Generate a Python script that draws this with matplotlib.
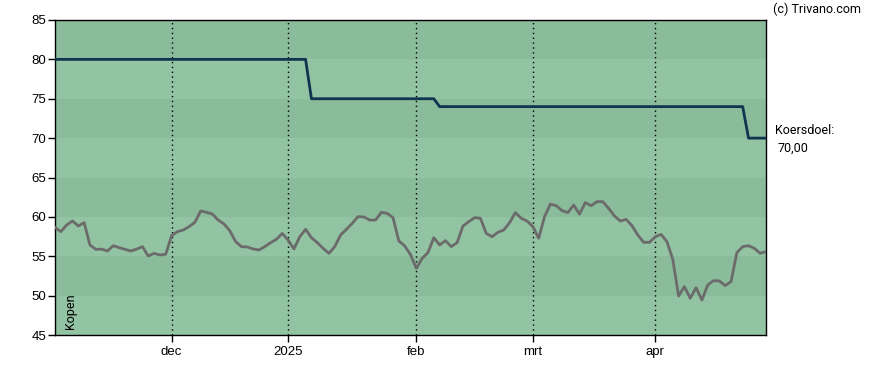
import matplotlib
matplotlib.use("Agg")
import matplotlib.pyplot as plt
import pandas as pd
import numpy as np

plt.rcParams['font.family'] = ['Roboto', 'DejaVu Sans']

# Trading days Nov 4 2024 .. Apr 30 2025 (Euronext holidays removed)
holidays = ["2024-12-25", "2024-12-26", "2025-01-01", "2025-04-18", "2025-04-21"]
dates = pd.bdate_range("2024-11-04", "2025-04-30")
dates = dates[~dates.isin(pd.to_datetime(holidays))]

price = [
    58.67, 58.12, 58.97, 59.48, 58.84, 59.26, 56.43, 55.88, 55.90, 55.67,
    56.34, 56.09, 55.88, 55.67, 55.90, 56.22, 55.03, 55.37, 55.16, 55.25,
    57.61, 58.12, 58.33, 58.76, 59.31, 60.75, 60.58, 60.37, 59.60, 59.10,
    58.23, 56.85, 56.22, 56.18, 55.92, 55.80, 56.22, 56.73, 57.15, 57.90,
    57.06, 55.92, 57.48, 58.42, 57.36, 56.73, 56.01, 55.37, 56.22, 57.70,
    58.42, 59.18, 60.03, 59.99, 59.60, 59.60, 60.58, 60.45, 59.90, 56.94,
    56.32, 55.20, 53.46, 54.73, 55.46, 57.36, 56.43, 56.98, 56.22, 56.73,
    58.84, 59.39, 59.90, 59.82, 57.90, 57.48, 58.04, 58.33, 59.26, 60.54,
    59.82, 59.48, 58.76, 57.28, 60.03, 61.63, 61.42, 60.79, 60.54, 61.50,
    60.35, 61.82, 61.42, 61.93, 61.93, 61.08, 60.11, 59.48, 59.69, 58.88,
    57.70, 56.77, 56.77, 57.48, 57.78, 56.85, 54.61, 49.95, 51.14, 49.66,
    51.01, 49.44, 51.35, 51.90, 51.86, 51.27, 51.78, 55.46, 56.22, 56.34,
    56.01, 55.37, 55.58,
]

target = [80.0] * 44 + [75.0] * 22 + [74.0] * 53 + [70.0] * 4

month_labels = {12: "dec", 1: "2025", 2: "feb", 3: "mrt", 4: "apr"}
y_ticks = [45, 50, 55, 60, 65, 70, 75, 80, 85]

n = len(price)
idx = np.arange(n)

fig = plt.figure(figsize=(8.88, 3.70), dpi=100)
ax = fig.add_axes([55 / 888, 1 - 335 / 370, 711 / 888, 315 / 370])

dark = "#8abb9b"
light = "#92c3a2"
for k in range(len(y_ticks) - 1):
    lo, hi = y_ticks[k], y_ticks[k + 1]
    ax.axhspan(lo, hi, color=light if k % 2 == 0 else dark, lw=0, zorder=0)

# month ticks: first trading day of each month
s = pd.Series(idx, index=dates)
firsts = s.groupby([dates.year, dates.month]).first()
tick_pos, tick_lab = [], []
for (yr, mo), p in firsts.items():
    if mo in month_labels and p > 0:
        tick_pos.append(p)
        tick_lab.append(month_labels[mo])

for p in tick_pos:
    ax.axvline(p, color="black", lw=1, ls=(0, (1, 2.5)), zorder=1)

ax.plot(idx, price, color="#6b6b6b", lw=2, zorder=3)
ax.plot(idx, target, color="#0f3550", lw=2, zorder=4)

ax.set_xlim(0, n - 1)
ax.set_ylim(45, 85)
ax.set_yticks(y_ticks)
ax.set_xticks(tick_pos)
ax.set_xticklabels(tick_lab)
ax.tick_params(axis="both", labelsize=9.5, length=5, width=1, color="black")
ax.tick_params(axis="y", pad=1.5)
ax.tick_params(axis="x", pad=3)
for lab in ax.get_xticklabels() + ax.get_yticklabels():
    lab.set_family(['Liberation Sans', 'DejaVu Sans'])
for sp in ax.spines.values():
    sp.set_color("black")
    sp.set_linewidth(1)

ax.text(0.012, 0.02, "Kopen", rotation=90, transform=ax.transAxes,
        fontsize=9, ha="left", va="bottom", color="black")

fig.text(773 / 888, 1 - 9 / 370, "(c) Trivano.com", fontsize=9,
         ha="left", va="center", color="black")
fig.text(775 / 888, 1 - 130 / 370, "Koersdoel:", fontsize=9,
         ha="left", va="center", color="black")
fig.text(777 / 888, 1 - 148 / 370, "70,00", fontsize=9,
         ha="left", va="center", color="black")

fig.savefig("out.png", dpi=100)
